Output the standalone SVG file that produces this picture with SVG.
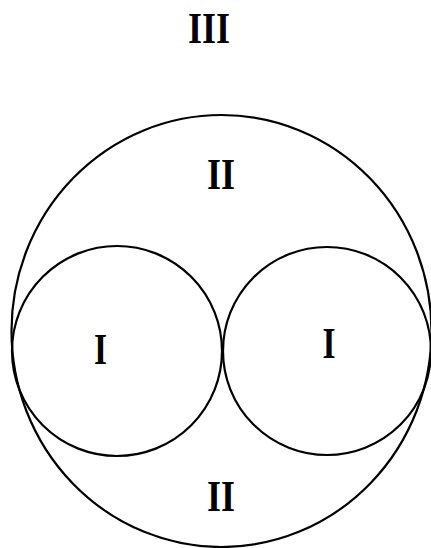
<svg xmlns="http://www.w3.org/2000/svg" width="431" height="548" viewBox="0 0 431 548">
<style>
.c{fill:none;stroke:#000;stroke-width:2.2}
.t{font-family:"Liberation Serif","Times New Roman",serif;font-weight:bold;font-size:44px;fill:#000;text-anchor:middle}
</style>
<rect width="431" height="548" fill="#fff"/>
<g id="region-III"><text class="t" x="209" y="43" textLength="42" lengthAdjust="spacingAndGlyphs">III</text></g>
<g id="outer"><ellipse class="c" cx="221.5" cy="331" rx="210" ry="216"/></g>
<g id="left"><circle class="c" cx="117" cy="351" r="105"/></g>
<g id="right"><circle class="c" cx="327" cy="351" r="104"/></g>
<g id="labels">
<text class="t" x="221" y="189" textLength="28" lengthAdjust="spacingAndGlyphs">II</text>
<text class="t" x="100.5" y="364" textLength="13" lengthAdjust="spacingAndGlyphs">I</text>
<text class="t" x="329" y="358" textLength="13" lengthAdjust="spacingAndGlyphs">I</text>
<text class="t" x="221" y="511" textLength="28" lengthAdjust="spacingAndGlyphs">II</text>
</g>
<g id="connectors"/>
</svg>
